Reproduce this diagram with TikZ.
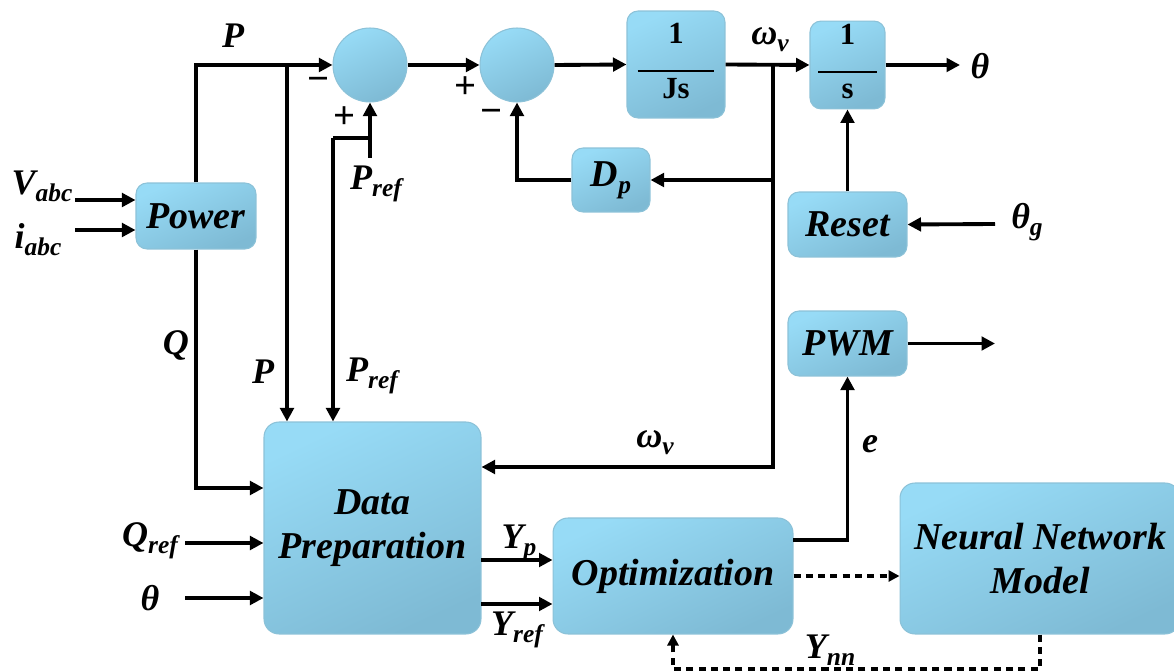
\documentclass[tikz,border=0pt]{standalone}
\usepackage{fontspec}
\setmainfont{Liberation Serif}[
  UprightFont=*,
  BoldFont=* Bold,
  ItalicFont=* Italic,
  BoldItalicFont=* Bold Italic]
\usetikzlibrary{arrows.meta,calc}

\definecolor{boxtop}{HTML}{97DBF6}
\definecolor{boxbot}{HTML}{7EBAD4}
\definecolor{boxedge}{HTML}{8CC2D8}

% lowered subscript in the label font
\newcommand\sbs[1]{\raisebox{-4pt}{\fontsize{14.5}{16}\selectfont\bfseries\itshape #1}}
% fraction block content (upright bold)
\newcommand\blkfrac[3]{{\fontsize{17.5}{19}\selectfont\bfseries\upshape
  \begin{tabular}{@{}c@{}}#1\\[-3pt]\rule{#3}{0.9pt}\\[-4pt]#2\end{tabular}}}

\tikzset{
  blk/.style={draw=boxedge, line width=0.6pt, rounded corners=0.22cm,
    top color=boxtop, bottom color=boxbot, shading angle=25,
    font=\fontsize{21.6}{25}\selectfont\bfseries\itshape,
    align=center, inner sep=0pt},
  sumnode/.style={circle, draw=boxedge, line width=0.6pt,
    top color=boxtop, bottom color=boxbot, shading angle=25,
    minimum size=1.48cm, inner sep=0pt},
  lab/.style={font=\fontsize{20.5}{23}\selectfont\bfseries\itshape, inner sep=0pt},
  sgn/.style={font=\fontsize{22}{24}\selectfont\bfseries\upshape, inner sep=0pt},
  arr/.style={line width=2.2pt, -{Triangle[length=0.27cm,width=0.27cm]}},
  wire/.style={line width=2.2pt},
  darr/.style={line width=1.8pt, dash pattern=on 4pt off 3pt,
    -{Triangle[length=0.22cm,width=0.22cm]}}
}

\begin{document}
\begin{tikzpicture}[x=0.02cm,y=-0.02cm]
\useasboundingbox (0,0) rectangle (1174,672);

% blocks
\node[blk, minimum width=2.4cm, minimum height=1.32cm] (pow) at (196,216) {Power};
\node[sumnode] (s1) at (370,65) {};
\node[sumnode] (s2) at (517,65) {};
\node[blk, minimum width=1.96cm, minimum height=2.14cm] (js) at (676,64.5) {\blkfrac{1}{Js}{1.54cm}};
\node[blk, minimum width=1.5cm, minimum height=1.72cm] (is) at (847.5,65) {\blkfrac{1}{s}{1.18cm}};
\node[blk, minimum width=1.56cm, minimum height=1.28cm] (dp) at (611,180) {D\sbs{p}};
\node[blk, minimum width=2.38cm, minimum height=1.3cm] (reset) at (847.5,224.5) {Reset};
\node[blk, minimum width=2.38cm, minimum height=1.3cm] (pwm) at (847.5,343.5) {PWM};
\node[blk, minimum width=4.34cm, minimum height=4.24cm, rounded corners=0.3cm] (prep) at (372.5,528) {Data\\Preparation};
\node[blk, minimum width=4.8cm, minimum height=2.32cm, rounded corners=0.3cm] (opt) at (673,576) {Optimization};
\node[blk, minimum width=5.6cm, minimum height=3.02cm, rounded corners=0.3cm] (nn) at (1040,558.5) {Neural Network\\Model};

% junctions and free ends
\coordinate (jP) at (287,65);
\coordinate (prin) at (370,158);
\coordinate (jPr) at (370,138);
\coordinate (prL) at (333,138);
\coordinate (jW) at (773,65);
\coordinate (jD) at (773,180);
\coordinate (wTurn) at (773,467);
\coordinate (thOut) at (960,65);
\coordinate (thgIn) at (995,224);
\coordinate (pwmOut) at (995,343.5);
\coordinate (vIn) at (75,200);
\coordinate (iIn) at (75,230);
\coordinate (qTurn) at (196,488);
\coordinate (qrefIn) at (185,543);
\coordinate (thIn) at (185,598);
\coordinate (ypOut) at (481,560);
\coordinate (yrOut) at (481,604);
\coordinate (eOut) at (793,540);
\coordinate (nnTurn) at (1040,669);

% power path
\draw[arr] (vIn) -- (vIn -| pow.west);
\draw[arr] (iIn) -- (iIn -| pow.west);
\draw[arr] (pow.north) |- (s1.west);
\draw[arr] (jP) -- (jP |- prep.north);
\draw[arr] (prin) -- (s1.south);
\draw[wire] (jPr) -- (prL);
\draw[arr] (prL) -- (prL |- prep.north);
\draw[arr] (pow.south) -- (qTurn) -- (qTurn -| prep.west);

% swing loop
\draw[arr] (s1.east) -- (s2.west);
\draw[arr] (s2.east) -- (js.west);
\draw[arr] (js.east) -- (is.west);
\draw[arr] (is.east) -- (thOut);
\draw[arr] (jW) -- (wTurn) -- (wTurn -| prep.east);
\draw[arr] (jD) -- (dp.east);
\draw[arr] (dp.west) -| (s2.south);
\draw[arr] (reset.north) -- (is.south);
\draw[arr] (thgIn) -- (reset.east);
\draw[arr] (pwm.east) -- (pwmOut);

% data preparation and optimisation
\draw[arr] (qrefIn) -- (qrefIn -| prep.west);
\draw[arr] (thIn) -- (thIn -| prep.west);
\draw[arr] (ypOut) -- (ypOut -| opt.west);
\draw[arr] (yrOut) -- (yrOut -| opt.west);
\draw[arr] (eOut) -| (pwm.south);
\draw[darr] (opt.east) -- (opt.east -| nn.west);
\draw[darr] (nn.south) -- (nnTurn) -| (opt.south);

% signal labels
\node[lab] (lP1) at (233,36) {P};
\node[lab] (lP2) at (263,372) {P};
\node[lab] (lQ) at (176,345) {Q};
\node[lab] (lPr1) at (376,184) {P\sbs{ref}};
\node[lab] (lPr2) at (372,376) {P\sbs{ref}};
\node[sgn] (m1) at (319,84) {−};
\node[sgn] (p1) at (345,118) {+};
\node[sgn] (p2) at (466,88) {+};
\node[sgn] (m2) at (492,116) {−};
\node[lab] (lV) at (42,186) {V\sbs{abc}};
\node[lab] (lI) at (38,240) {i\sbs{abc}};
\node[lab] (lW1) at (770,40) {ω\sbs{v}};
\node[lab] (lW2) at (655,443) {ω\sbs{v}};
\node[lab] (le) at (870,444) {e};
\node[lab] (lth) at (980,66) {θ};
\node[lab] (lthg) at (1027,222) {θ\sbs{g}};
\node[lab] (lQr) at (150,541) {Q\sbs{ref}};
\node[lab] (lth2) at (150,598) {θ};
\node[lab] (lYp) at (519,543) {Y\sbs{p}};
\node[lab] (lYr) at (517,630) {Y\sbs{ref}};
\node[lab] (lYn) at (830,650) {Y\sbs{nn}};
\end{tikzpicture}
\end{document}
